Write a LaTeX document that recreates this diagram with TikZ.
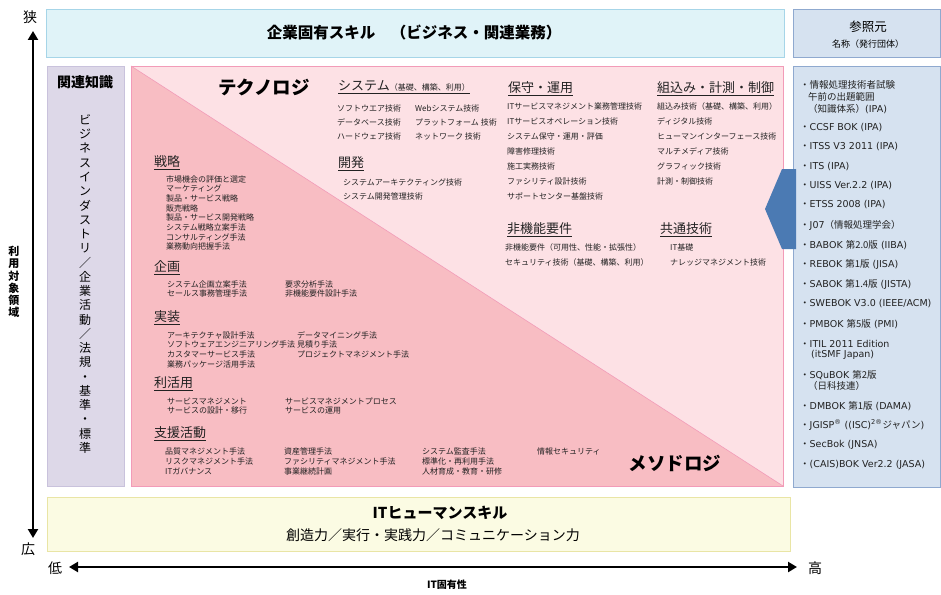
\documentclass[tikz,border=0pt]{standalone}
\usepackage{fontspec}
\setmainfont{Noto Sans CJK JP}
\newfontfamily\lat{DejaVu Sans}
\usetikzlibrary{arrows.meta}
\definecolor{topfill}{HTML}{E0F3F8}
\definecolor{topdraw}{HTML}{A6D5E8}
\definecolor{lavfill}{HTML}{DDD8E8}
\definecolor{lavdraw}{HTML}{C9C2DC}
\definecolor{pinklight}{HTML}{FDE1E5}
\definecolor{pinkdark}{HTML}{F8BDC3}
\definecolor{pinkdraw}{HTML}{F29BB8}
\definecolor{bluefill}{HTML}{D6E2F0}
\definecolor{bluedraw}{HTML}{8FA9CF}
\definecolor{yelfill}{HTML}{FBFBE3}
\definecolor{yeldraw}{HTML}{E9E5A5}
\definecolor{arrowblue}{HTML}{4B7AB3}
\definecolor{txt}{HTML}{222222}
\begin{document}
\begin{tikzpicture}[x=1pt,y=-1pt,
 item/.style={anchor=west,inner sep=0pt,font=\fontsize{8}{9}\selectfont,text=txt},
 head/.style={anchor=west,inner sep=0pt,font=\fontsize{13}{15}\selectfont,text=txt},
 ref/.style={anchor=west,inner sep=0pt,font=\fontsize{9.5}{11}\selectfont,text=txt},
 big/.style={inner sep=0pt,font=\fontsize{18.5}{20}\selectfont\bfseries},
 axlbl/.style={inner sep=0pt,font=\fontsize{14}{16}\selectfont},
 band/.style={line width=0.8pt},
 axarrow/.style={line width=2.6pt,{Triangle[length=9pt,width=10pt]}-{Triangle[length=9pt,width=10pt]}},
]
\useasboundingbox (0,0) rectangle (941,594);

% ---------- top band
\draw[band,draw=topdraw,fill=topfill] (46,9) rectangle (784,57);
\node[inner sep=0pt,font=\fontsize{15.5}{17}\selectfont\bfseries] (toptxt) at (414,33) {企業固有スキル　（ビジネス・関連業務）};

% ---------- related knowledge
\draw[band,draw=lavdraw,fill=lavfill] (47,66) rectangle (124,486);
\node[inner sep=0pt,font=\fontsize{14}{16}\selectfont\bfseries] (kanren) at (85,82) {関連知識};
\node[inner sep=0pt,align=center,font=\fontsize{12}{14.26}\selectfont] (biz) at (85,284)
 {ビ\\ジ\\ネ\\ス\\イ\\ン\\ダ\\ス\\ト\\リ\\／\\企\\業\\活\\動\\／\\法\\規\\・\\基\\準\\・\\標\\準};

% ---------- main pink area
\fill[pinklight] (131,66) -- (783,66) -- (783,486) -- cycle;
\fill[pinkdark] (131,66) -- (131,486) -- (783,486) -- cycle;
\draw[pinkdraw,line width=0.6pt] (131,66) -- (783,486);
\draw[band,draw=pinkdraw] (131,66) rectangle (783,486);

\node[big] (tech) at (264,87) {テクノロジ};
\node[big] (meth) at (675,463) {メソドロジ};

% technology
\node[head] (h1) at (338,87) {\underline{システム{\fontsize{8}{9}\selectfont（基礎、構築、利用）}}};
\foreach \t [count=\i from 0] in {ソフトウエア技術,データベース技術,ハードウェア技術}
 \node[item,name=a\i] at (337,108+\i*14.2) {\t};
\foreach \t [count=\i from 0] in {Webシステム技術,プラットフォーム 技術,ネットワーク 技術}
 \node[item,name=b\i] at (415,108+\i*14.2) {\t};
\node[head] (h2) at (338,164) {\underline{開発}};
\foreach \t [count=\i from 0] in {システムアーキテクティング技術,システム開発管理技術}
 \node[item,name=c\i] at (343,182+\i*14.5) {\t};

\node[head] (h3) at (508,89) {\underline{保守・運用}};
\foreach \t [count=\i from 0] in {ITサービスマネジメント業務管理技術,ITサービスオペレーション技術,システム保守・運用・評価,障害修理技術,施工実務技術,ファシリティ設計技術,サポートセンター基盤技術}
 \node[item,name=d\i] at (507,106.5+\i*15) {\t};

\node[head] (h4) at (657,89) {\underline{組込み・計測・制御}};
\foreach \t [count=\i from 0] in {組込み技術（基礎、構築、利用）,ディジタル技術,ヒューマンインターフェース技術,マルチメディア技術,グラフィック技術,計測・制御技術}
 \node[item,name=e\i] at (657,106.5+\i*15) {\t};

\node[head] (h5) at (507,230) {\underline{非機能要件}};
\foreach \t [count=\i from 0] in {非機能要件（可用性、性能・拡張性）,セキュリティ技術（基礎、構築、利用）}
 \node[item,name=f\i] at (505,247+\i*15) {\t};
\node[head] (h6) at (660,230) {\underline{共通技術}};
\foreach \t [count=\i from 0] in {IT基礎,ナレッジマネジメント技術}
 \node[item,name=g\i] at (670,247+\i*15) {\t};

% methodology
\node[head] (m1) at (154,163) {\underline{戦略}};
\foreach \t [count=\i from 0] in {市場機会の評価と選定,マーケティング,製品・サービス戦略,販売戦略,製品・サービス開発戦略,システム戦略立案手法,コンサルティング手法,業務動向把握手法}
 \node[item,name=s\i] at (166,179+\i*9.7) {\t};

\node[head] (m2) at (154,268) {\underline{企画}};
\foreach \t [count=\i from 0] in {システム企画立案手法,セールス事務管理手法}
 \node[item,name=p\i] at (167,284+\i*9.8) {\t};
\foreach \t [count=\i from 0] in {要求分析手法,非機能要件設計手法}
 \node[item,name=q\i] at (285,284+\i*9.8) {\t};

\node[head] (m3) at (154,318) {\underline{実装}};
\foreach \t [count=\i from 0] in {アーキテクチャ設計手法,ソフトウェアエンジニアリング手法,カスタマーサービス手法,業務パッケージ活用手法}
 \node[item,name=r\i] at (167,335+\i*9.7) {\t};
\foreach \t [count=\i from 0] in {データマイニング手法,見積り手法,プロジェクトマネジメント手法}
 \node[item,name=t\i] at (297,335+\i*9.7) {\t};

\node[head] (m4) at (154,384) {\underline{利活用}};
\foreach \t [count=\i from 0] in {サービスマネジメント,サービスの設計・移行}
 \node[item,name=u\i] at (167,401+\i*9.3) {\t};
\foreach \t [count=\i from 0] in {サービスマネジメントプロセス,サービスの運用}
 \node[item,name=v\i] at (285,401+\i*9.3) {\t};

\node[head] (m5) at (154,434) {\underline{支援活動}};
\foreach \t [count=\i from 0] in {品質マネジメント手法,リスクマネジメント手法,ITガバナンス}
 \node[item,name=w\i] at (165,451+\i*10) {\t};
\foreach \t [count=\i from 0] in {資産管理手法,ファシリティマネジメント手法,事業継続計画}
 \node[item,name=x\i] at (284,451+\i*10) {\t};
\foreach \t [count=\i from 0] in {システム監査手法,標準化・再利用手法,人材育成・教育・研修}
 \node[item,name=y\i] at (422,451+\i*10.3) {\t};
\node[item] (z0) at (537,451) {情報セキュリティ};

% ---------- reference source boxes
\draw[band,draw=bluedraw,fill=bluefill] (793,9) rectangle (940.5,57);
\node[inner sep=0pt,font=\fontsize{12.5}{14}\selectfont] (sanshou) at (868,27) {参照元};
\node[inner sep=0pt,font=\fontsize{9}{10}\selectfont] (meishou) at (868,44) {名称（発行団体）};
\draw[band,draw=bluedraw,fill=bluefill] (793,66) rectangle (940.5,487);

\node[ref] (r1) at (800,85) {・情報処理技術者試験};
\node[ref] (r1b) at (808,97) {午前の出題範囲};
\node[ref] (r1c) at (808,109) {（知識体系）{\lat (IPA)}};
\node[ref] (r2) at (800,128) {・{\lat CCSF BOK (IPA)}};
\node[ref] (r3) at (800,147) {・{\lat ITSS V3 2011 (IPA)}};
\node[ref] (r4) at (800,167) {・{\lat ITS (IPA)}};
\node[ref] (r5) at (800,186) {・{\lat UISS Ver.2.2 (IPA)}};
\node[ref] (r6) at (800,205) {・{\lat ETSS 2008 (IPA)}};
\node[ref] (r7) at (800,225) {・{\lat J07}（情報処理学会）};
\node[ref] (r8) at (800,245) {・{\lat BABOK }第2.0版{\lat\ (IIBA)}};
\node[ref] (r9) at (800,264) {・{\lat REBOK }第1版{\lat\ (JISA)}};
\node[ref] (r10) at (800,284) {・{\lat SABOK }第1.4版{\lat\ (JISTA)}};
\node[ref] (r11) at (800,304) {・{\lat SWEBOK V3.0 (IEEE/ACM)}};
\node[ref] (r12) at (800,324) {・{\lat PMBOK }第5版{\lat\ (PMI)}};
\node[ref] (r13) at (800,344) {・{\lat ITIL 2011 Edition}};
\node[ref] (r13b) at (811,355) {{\lat (itSMF Japan)}};
\node[ref] (r14) at (800,375) {・{\lat SQuBOK }第2版};
\node[ref] (r14b) at (808,386) {（日科技連）};
\node[ref] (r15) at (800,406) {・{\lat DMBOK }第1版{\lat\ (DAMA)}};
\node[ref] (r16) at (800,425) {・{\lat JGISP\textsuperscript{®} ((ISC)\textsuperscript{2®}}ジャパン{\lat )}};
\node[ref] (r17) at (800,445) {・{\lat SecBok (JNSA)}};
\node[ref] (r18) at (800,465) {・{\lat (CAIS)BOK Ver2.2 (JASA)}};

% blue arrow
\fill[arrowblue] (765,209) -- (782,169) -- (796,169) -- (796,249) -- (782,249) -- cycle;

% ---------- IT human skill
\draw[band,draw=yeldraw,fill=yelfill] (47,497) rectangle (790,551);
\node[inner sep=0pt,font=\fontsize{15}{17}\selectfont\bfseries] (hs) at (440,513) {ITヒューマンスキル};
\node[inner sep=0pt,font=\fontsize{14}{16}\selectfont] (hs2) at (433,535) {創造力／実行・実践力／コミュニケーション力};

% ---------- axes
\node[axlbl] (narrow) at (30,17) {狭};
\node[axlbl] (wide) at (28,549) {広};
\coordinate (vt) at (33,31);
\coordinate (vb) at (33,538);
\draw[axarrow] (vt) -- (vb);
\node[inner sep=0pt,align=center,font=\fontsize{11}{12.2}\selectfont\bfseries] (ryou) at (14,282) {利\\用\\対\\象\\領\\域};

\node[axlbl] (low) at (55,568) {低};
\node[axlbl] (high) at (815,568) {高};
\coordinate (hl) at (69,567);
\coordinate (hr) at (797,567);
\draw[axarrow] (hl) -- (hr);
\node[inner sep=0pt,font=\fontsize{10}{12}\selectfont\bfseries] (itk) at (447,585) {IT固有性};
\end{tikzpicture}
\end{document}
